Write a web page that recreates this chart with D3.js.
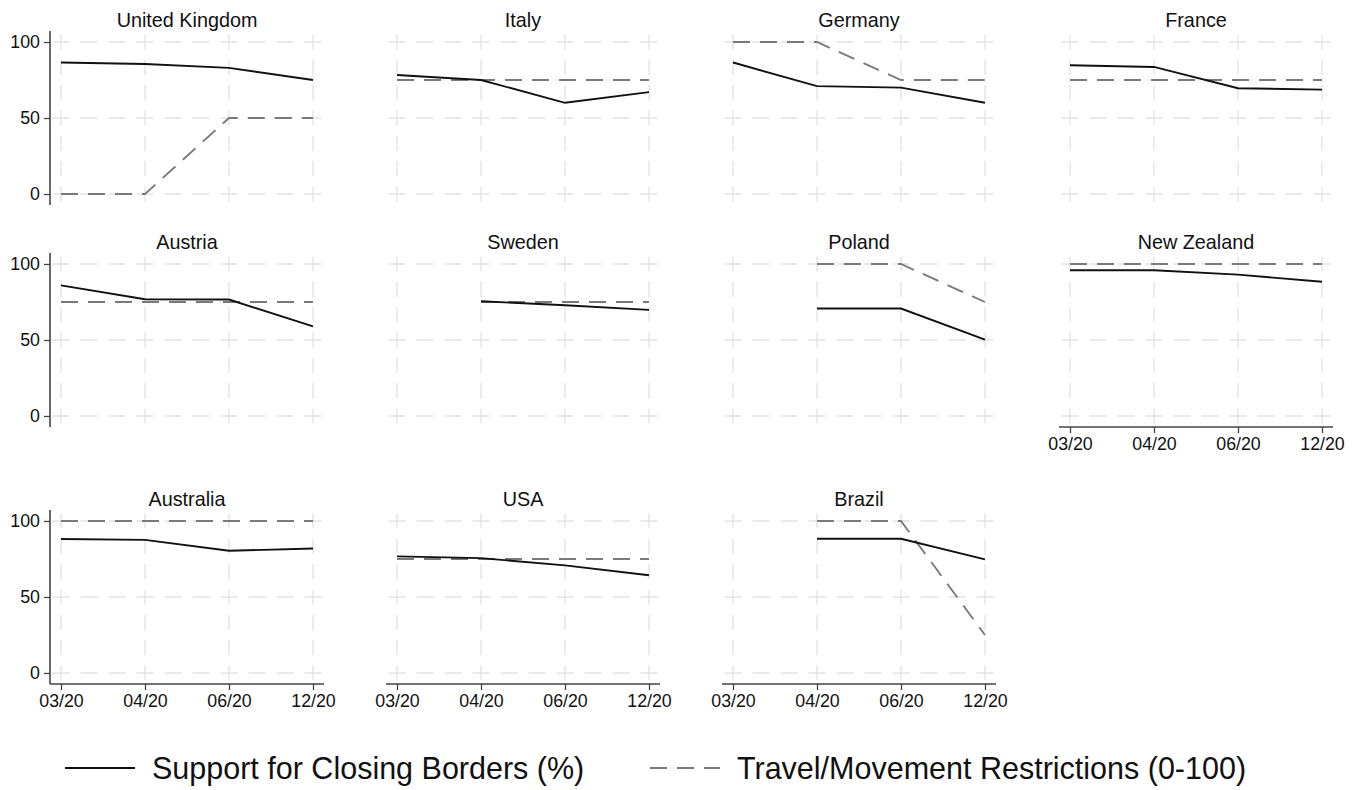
<!DOCTYPE html>
<html>
<head>
<meta charset="utf-8">
<script src="https://cdn.jsdelivr.net/npm/d3@7"></script>
<style>
  body { margin: 0; background: #fff; }
  text { font-family: "Liberation Sans", Arial, Helvetica, sans-serif; }
</style>
</head>
<body>
<script>
const width = 1359
const height = 790

const periods = ['03/20', '04/20', '06/20', '12/20']
const yTicks = [0, 50, 100]

const countries = ['United Kingdom', 'Italy', 'Germany', 'France',
  'Austria', 'Sweden', 'Poland', 'New Zealand',
  'Australia', 'USA', 'Brazil']

// support for closing borders (%)
const support = [
  [86.5, 85.5, 83, 75],
  [78.3, 75, 60, 67],
  [86.5, 71, 70, 60],
  [84.7, 83.6, 69.6, 68.7],
  [85.9, 76.8, 76.6, 59],
  [null, 75.5, 72.9, 69.8],
  [null, 70.7, 70.7, 50.2],
  [95.9, 95.9, 93, 88.3],
  [88.2, 87.6, 80.4, 81.9],
  [76.7, 75.6, 70.8, 64.3],
  [null, 88.3, 88.3, 74.8]
]

// travel/movement restrictions (0-100)
const restrictions = [
  [0, 0, 50, 50],
  [75, 75, 75, 75],
  [100, 100, 75, 75],
  [75, 75, 75, 75],
  [75, 75, 75, 75],
  [null, 75, 75, 75],
  [null, 100, 100, 75],
  [100, 100, 100, 100],
  [100, 100, 100, 100],
  [75, 75, 75, 75],
  [null, 100, 100, 25]
]

// layout
const colX = [61, 397, 733, 1070]   // first x tick of each column
const rowY = [42, 264, 521]         // y of the 100 line in each row
const pw = 252
const ph = 152
const pad = 11

const gridColor = '#e2e2e2'
const axisColor = '#444'

let svg = d3.select('body')
  .append('svg')
    .attr('width', width)
    .attr('height', height)

// centre a dash of a dashed line at each grid crossing
function gridDash(step) {
  const period = step / 3
  const dash = period * 0.6
  return { arr: dash + ' ' + (period - dash), off: dash / 2 - pad }
}

countries.forEach((name, i) => {
  const col = i % 4
  const row = Math.floor(i / 4)
  const x0 = colX[col]
  const y0 = rowY[row]

  const x = d3.scalePoint()
    .domain(periods)
    .range([x0, x0 + pw])

  const y = d3.scaleLinear()
    .domain([0, 100])
    .range([y0 + ph, y0])

  const g = svg.append('g')

  // grid
  const gx = gridDash(x.step())
  g.selectAll('.hgrid')
    .data(yTicks)
    .join('line')
      .attr('x1', x0 - pad).attr('x2', x0 + pw + pad)
      .attr('y1', (d) => y(d)).attr('y2', (d) => y(d))
      .attr('stroke', gridColor)
      .attr('stroke-width', 1.3)
      .attr('stroke-dasharray', gx.arr)
      .attr('stroke-dashoffset', gx.off)

  const gy = gridDash(y(0) - y(50))
  g.selectAll('.vgrid')
    .data(periods)
    .join('line')
      .attr('x1', (d) => x(d)).attr('x2', (d) => x(d))
      .attr('y1', y0 - pad).attr('y2', y0 + ph + pad)
      .attr('stroke', gridColor)
      .attr('stroke-width', 1.3)
      .attr('stroke-dasharray', gy.arr)
      .attr('stroke-dashoffset', gy.off)

  // series
  const rows = periods.map((p, j) => ({ p: p, s: support[i][j], r: restrictions[i][j] }))

  const lineR = d3.line()
    .defined((d) => d.r != null)
    .x((d) => x(d.p))
    .y((d) => y(d.r))

  const lineS = d3.line()
    .defined((d) => d.s != null)
    .x((d) => x(d.p))
    .y((d) => y(d.s))

  g.append('path')
    .attr('d', lineR(rows))
    .attr('fill', 'none')
    .attr('stroke', '#7a7a7a')
    .attr('stroke-width', 1.9)
    .attr('stroke-dasharray', '17 10')

  g.append('path')
    .attr('d', lineS(rows))
    .attr('fill', 'none')
    .attr('stroke', '#111')
    .attr('stroke-width', 1.9)

  // title
  g.append('text')
    .attr('x', x0 + pw / 2)
    .attr('y', y0 - 22)
    .attr('dy', '0.35em')
    .attr('text-anchor', 'middle')
    .attr('font-size', 19.8)
    .attr('fill', '#111')
    .text(name)

  // y axis on the first column
  if (col === 0) {
    const ya = g.append('g')
      .attr('transform', 'translate(' + (x0 - pad) + ',0)')
      .call(d3.axisLeft(y).tickValues(yTicks).tickSize(6).tickPadding(4))
    ya.select('.domain').remove()
    ya.selectAll('line').attr('stroke', axisColor).attr('stroke-width', 1.3)
    ya.selectAll('text').attr('font-size', 17.8).attr('fill', '#111')
      .style('font-family', '"Liberation Sans", Arial, sans-serif')
    g.append('line')
      .attr('x1', x0 - pad).attr('x2', x0 - pad)
      .attr('y1', y0 - pad).attr('y2', y0 + ph + pad)
      .attr('stroke', axisColor)
      .attr('stroke-width', 1.6)
  }

  // x axis on the bottom panel of each column
  if (row === 2 || i === 7) {
    const xa = g.append('g')
      .attr('transform', 'translate(0,' + (y0 + ph + pad) + ')')
      .call(d3.axisBottom(x).tickSize(6).tickPadding(4))
    xa.select('.domain').remove()
    xa.selectAll('line').attr('stroke', axisColor).attr('stroke-width', 1.3)
    xa.selectAll('text').attr('font-size', 17.8).attr('fill', '#111')
      .style('font-family', '"Liberation Sans", Arial, sans-serif')
    g.append('line')
      .attr('x1', x0 - pad).attr('x2', x0 + pw + pad)
      .attr('y1', y0 + ph + pad).attr('y2', y0 + ph + pad)
      .attr('stroke', axisColor)
      .attr('stroke-width', 1.6)
  }
})

// legend
const legendItems = ['Support for Closing Borders (%)', 'Travel/Movement Restrictions (0-100)']
const legendX = [65, 650]
const legendY = 768

let legend = svg.append('g')

legendItems.forEach((label, k) => {
  legend.append('line')
    .attr('x1', legendX[k]).attr('x2', legendX[k] + 70)
    .attr('y1', legendY).attr('y2', legendY)
    .attr('stroke', k === 0 ? '#111' : '#7a7a7a')
    .attr('stroke-width', 2)
    .attr('stroke-dasharray', k === 0 ? null : '17 10')
  legend.append('text')
    .attr('x', legendX[k] + 87)
    .attr('y', legendY)
    .attr('dy', '0.36em')
    .attr('font-size', 30.5)
    .attr('fill', '#111')
    .text(label)
})
</script>
</body>
</html>
